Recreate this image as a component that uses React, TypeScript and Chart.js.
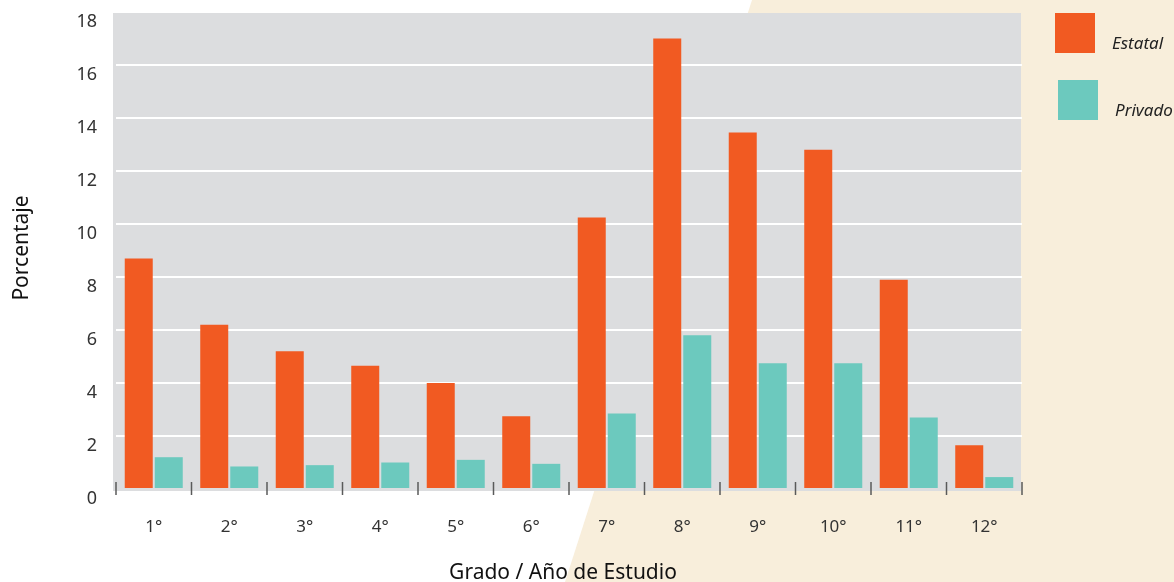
import { useEffect, useRef } from "react";
import { Chart, registerables } from "chart.js";

Chart.register(...registerables);

const categories = ["1°", "2°", "3°", "4°", "5°", "6°", "7°", "8°", "9°", "10°", "11°", "12°"];
const estatalValues = [8.7, 6.2, 5.2, 4.65, 4.0, 2.75, 10.25, 17.0, 13.45, 12.8, 7.9, 1.65];
const privadoValues = [1.2, 0.85, 0.9, 1.0, 1.1, 0.95, 2.85, 5.8, 4.75, 4.75, 2.7, 0.45];
const yTickValues = [0, 2, 4, 6, 8, 10, 12, 14, 16, 18];
const seriesLabels = ["Estatal", "Privado"];
const seriesColors = ["#F15A22", "#6CC9BE"];
const xAxisTitle = "Grado / Año de Estudio";
const yAxisTitle = "Porcentaje";

const FONT = "'Noto Sans', 'Open Sans', sans-serif";

const decorPlugin = {
  id: "decor",
  beforeDraw(chart: any) {
    const { ctx, chartArea, width, height } = chart;
    ctx.save();
    ctx.fillStyle = "#FFFFFF";
    ctx.fillRect(0, 0, width, height);
    ctx.fillStyle = "#F8EEDB";
    ctx.beginPath();
    ctx.moveTo(752, 0);
    ctx.lineTo(width, 0);
    ctx.lineTo(width, height);
    ctx.lineTo(565, height);
    ctx.closePath();
    ctx.fill();
    ctx.fillStyle = "#DCDDDF";
    ctx.fillRect(chartArea.left - 3, chartArea.top + 1, chartArea.right - chartArea.left + 2, chartArea.bottom - chartArea.top + 1);
    ctx.restore();
  },
  afterDraw(chart: any) {
    const { ctx, chartArea } = chart;
    const xs = chart.scales.x;
    ctx.save();
    ctx.strokeStyle = "#5a5a5a";
    ctx.lineWidth = 1.5;
    for (let i = 0; i <= categories.length; i++) {
      const px = xs.getPixelForValue(i - 0.5);
      ctx.beginPath();
      ctx.moveTo(px, chartArea.bottom - 7);
      ctx.lineTo(px, chartArea.bottom + 6);
      ctx.stroke();
    }
    ctx.fillStyle = "#111111";
    ctx.font = `21px ${FONT}`;
    ctx.textAlign = "center";
    ctx.textBaseline = "alphabetic";
    ctx.fillText(xAxisTitle, 563, 579);
    ctx.save();
    ctx.translate(28, 248);
    ctx.rotate(-Math.PI / 2);
    ctx.fillText(yAxisTitle, 0, 0);
    ctx.restore();
    const boxes = [
      { x: 1055, y: 13, tx: 1112, ty: 49 },
      { x: 1058, y: 80, tx: 1115, ty: 116 },
    ];
    ctx.font = `italic 17px ${FONT}`;
    ctx.textAlign = "left";
    boxes.forEach((b, i) => {
      ctx.fillStyle = seriesColors[i];
      ctx.fillRect(b.x, b.y, 40, 40);
      ctx.fillStyle = "#222222";
      ctx.fillText(seriesLabels[i], b.tx, b.ty);
    });
    ctx.restore();
  },
};

export default function App() {
  const ref = useRef<HTMLCanvasElement | null>(null);
  useEffect(() => {
    if (!ref.current) return;
    const chart = new Chart(ref.current, {
      type: "bar",
      data: {
        labels: categories,
        datasets: [
          {
            label: seriesLabels[0],
            data: estatalValues,
            backgroundColor: seriesColors[0],
            barPercentage: 0.933,
            categoryPercentage: 0.795,
          },
          {
            label: seriesLabels[1],
            data: privadoValues,
            backgroundColor: seriesColors[1],
            barPercentage: 0.933,
            categoryPercentage: 0.795,
          },
        ],
      },
      options: {
        responsive: false,
        animation: false,
        layout: { padding: { left: 0, right: 152, top: 12, bottom: 0 } },
        plugins: { legend: { display: false }, tooltip: { enabled: false } },
        scales: {
          x: {
            grid: { display: false, drawTicks: false },
            border: { display: false },
            ticks: { color: "#333333", font: { family: FONT, size: 17 }, padding: 28 },
            afterFit: (s: any) => {
              s.height = 93;
              s.paddingLeft = 0;
              s.paddingRight = 0;
            },
          },
          y: {
            min: 0,
            max: 18,
            afterBuildTicks: (s: any) => {
              s.ticks = yTickValues.map((v) => ({ value: v }));
            },
            grid: {
              drawTicks: false,
              lineWidth: 2,
              color: (c: any) => (c.tick && (c.tick.value === 0 || c.tick.value === 18) ? "rgba(0,0,0,0)" : "#FFFFFF"),
            },
            border: { display: false },
            ticks: {
              color: "#333333",
              font: { family: FONT, size: 18 },
              padding: 19,
              labelOffset: 10,
            },
            afterFit: (s: any) => {
              s.width = 116;
              s.paddingTop = 0;
              s.paddingBottom = 0;
            },
          },
        },
      },
      plugins: [decorPlugin],
    });
    return () => chart.destroy();
  }, []);
  return (
    <div style={{ position: "absolute", left: 0, top: 0, width: 1174, height: 582 }}>
      <canvas ref={ref} width={1174} height={582} style={{ display: "block" }} />
    </div>
  );
}
